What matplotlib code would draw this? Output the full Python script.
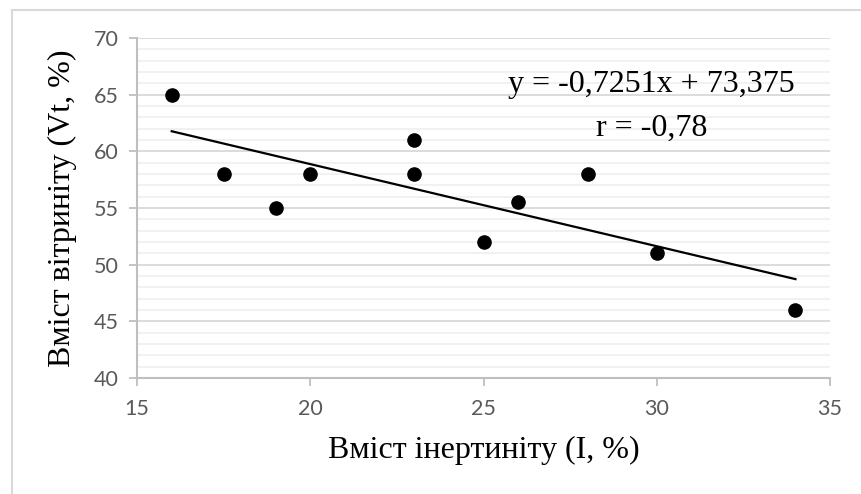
import numpy as np
import matplotlib
matplotlib.use("Agg")
import matplotlib.pyplot as plt
from matplotlib.lines import Line2D
from matplotlib.ticker import MultipleLocator

# inertinite (I, %) vs vitrinite (Vt, %)
inert = [16, 17.5, 19, 20, 23, 23, 25, 26, 28, 30, 34]
vitr = [65, 58, 55, 58, 61, 58, 52, 55.5, 58, 51, 46]
eq_text = "y = -0,7251x + 73,375"
r_text = "r = -0,78"
xlabel = "Вміст інертиніту (I, %)"
ylabel = "Вміст вітриніту (Vt, %)"

fig = plt.figure(figsize=(8.62, 4.94), dpi=100)
ax = fig.add_axes([0.159, 0.235, 0.804, 0.688])

# outer chart border (top + left visible)
fig.add_artist(Line2D([0.014, 1.0], [0.98, 0.98], color='#d9d9d9', lw=1.5, transform=fig.transFigure))
fig.add_artist(Line2D([0.014, 0.014], [0.0, 0.98], color='#d9d9d9', lw=1.5, transform=fig.transFigure))

ax.scatter(inert, vitr, s=90, color='black', zorder=3)
k, b = np.polyfit(inert, vitr, 1)
xs = np.array([min(inert), max(inert)])
ax.plot(xs, k*xs + b, color='black', lw=1.6, zorder=2)

ax.set_xlim(15, 35); ax.set_ylim(40, 70)
ax.xaxis.set_major_locator(MultipleLocator(5))
ax.yaxis.set_major_locator(MultipleLocator(5))
ax.yaxis.set_minor_locator(MultipleLocator(1))
ax.grid(True, axis='y', which='major', color='#d9d9d9', lw=1.3)
ax.grid(True, axis='y', which='minor', color='#f0f0f0', lw=1.3)
ax.set_axisbelow(True)
for s in ('top', 'right'):
    ax.spines[s].set_visible(False)
for s in ('left', 'bottom'):
    ax.spines[s].set_color('#bfbfbf'); ax.spines[s].set_linewidth(1.5)
ax.tick_params(which='major', colors='#bfbfbf', labelcolor='#595959', labelsize=15.5,
               length=6, width=1.3, labelfontfamily='Lato')
ax.tick_params(axis='y', which='minor', length=0)
ax.tick_params(axis='y', pad=7)
ax.tick_params(axis='x', pad=9)

ax.set_xlabel(xlabel, family='Liberation Serif', fontsize=23, labelpad=12)
ax.set_ylabel(ylabel, family='Liberation Serif', fontsize=23, labelpad=12)

ax.text(0.742, 0.862, eq_text, transform=ax.transAxes, ha='center', va='center',
        family='Liberation Serif', fontsize=23)
ax.text(0.742, 0.733, r_text, transform=ax.transAxes, ha='center', va='center',
        family='Liberation Serif', fontsize=23)

fig.savefig('out.png', dpi=100)
